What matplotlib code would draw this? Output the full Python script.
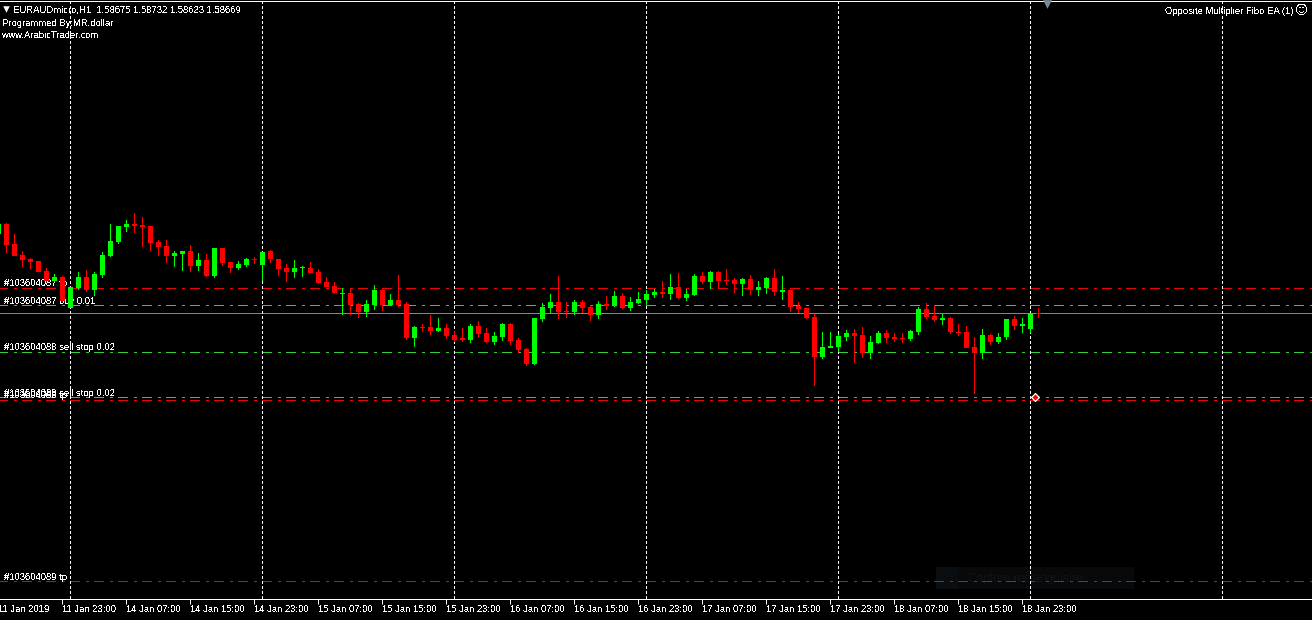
import numpy as np
import matplotlib
matplotlib.use('Agg')
import matplotlib.pyplot as plt

plt.rcParams['font.family'] = ['Liberation Sans', 'DejaVu Sans']
plt.rcParams['text.antialiased'] = False
plt.rcParams['text.hinting'] = 'native'

# no price scale on the chart, so candles are in chart levels
open_ = [386,396,376,365,361,359,349,339,343,312,332,343,330,345,364,378,393,396,395,394,
         378,374,364,366,369,354,360,344,372,358,352,355,361,355,369,361,352,348,352,352,
         348,338,334,326,327,316,308,315,330,315,320,316,282,293,293,289,292,285,282,280,
         294,287,278,283,296,280,271,256,301,312,318,309,308,318,313,305,316,314,324,312,
         317,320,325,328,326,333,322,325,344,338,348,340,340,336,341,330,332,342,328,330,
         314,312,303,263,272,273,283,287,285,267,277,287,283,282,281,288,311,304,300,302,
         288,288,273,267,285,278,283,301,294,291,307]
high = [397,397,386,369,362,359,352,346,344,333,348,350,348,368,396,394,400,407,403,394,
        380,380,369,369,375,367,366,372,372,358,359,362,363,368,370,361,356,360,354,358,
        351,343,338,332,332,317,320,335,331,326,345,318,294,296,305,302,296,289,292,296,
        299,292,288,297,297,282,272,302,317,326,344,318,320,320,315,319,324,329,327,323,
        328,330,331,339,346,347,331,346,348,349,349,351,342,342,345,339,343,351,344,330,
        318,312,306,288,288,286,290,291,293,284,289,290,287,287,290,313,317,315,306,303,
        296,294,283,291,286,287,301,304,302,307,312]
low = [386,367,364,353,351,348,338,338,318,312,330,328,324,342,363,376,388,387,373,369,
       364,357,353,349,348,349,343,342,354,347,350,353,356,339,357,344,338,342,343,347,
       336,333,326,305,305,302,303,310,309,314,313,280,273,288,285,288,281,278,278,277,
       282,277,275,279,275,267,254,255,298,306,301,302,305,307,299,301,310,313,311,309,
       316,315,322,322,320,321,319,324,336,331,331,335,327,324,325,324,326,324,320,308,
       307,301,234,261,272,268,279,257,262,261,276,277,278,277,279,285,301,298,295,286,
       284,272,226,261,275,276,280,290,287,287,302]
close = [396,375,364,360,358,348,339,343,319,333,343,330,346,365,379,394,396,394,393,377,
         373,364,367,369,354,360,344,372,357,352,356,361,360,368,361,351,348,352,353,347,
         337,333,327,327,315,308,316,330,315,320,315,282,293,292,289,292,284,280,280,294,
         286,278,284,296,279,270,256,302,313,318,308,308,318,312,305,316,314,324,312,318,
         321,326,328,326,333,322,326,344,338,348,339,339,336,341,330,333,342,328,330,313,
         311,302,263,273,274,284,287,284,267,278,287,282,281,281,289,311,303,300,302,288,
         287,272,267,285,278,283,301,294,296,307,306]

tick_bars = [0, 8, 16, 24, 32, 40, 48, 56, 64, 72, 80, 88, 96, 104, 112, 120, 128]
tick_labels = ['11 Jan 2019', '11 Jan 23:00', '14 Jan 07:00', '14 Jan 15:00', '14 Jan 23:00',
               '15 Jan 07:00', '15 Jan 15:00', '15 Jan 23:00', '16 Jan 07:00', '16 Jan 15:00',
               '16 Jan 23:00', '17 Jan 07:00', '17 Jan 15:00', '17 Jan 23:00', '18 Jan 07:00',
               '18 Jan 15:00', '18 Jan 23:00']
grid_bars = [9, 33, 57, 81, 105, 129, 153]

# order lines
red_levels = [331.5, 219.5, 38.5]
green_levels = [314.5, 267.5, 222.5]
bid_level = 306.5

order_labels = ['#103604087 tp', '#103604087 buy 0.01', '#103604088 sell stop 0.02',
                '#103604088 sell stop 0.02', '#103604088 tp', '#103604089 tp']
order_label_levels = [337, 318, 272, 226, 224, 43]

open_ = np.array(open_)
high = np.array(high)
low = np.array(low)
close = np.array(close)

x = np.arange(len(open_)) * 8 - 1.5
up = close >= open_
colors = ['#00ff00' if u else '#ff0000' for u in up]

fig = plt.figure(figsize=(13.12, 6.2), dpi=100, facecolor='black')
ax = fig.add_axes([0, 0, 1, 1])
ax.set_facecolor('black')
ax.set_xlim(0, 1312)
ax.set_ylim(0, 620)
ax.axis('off')

px = 0.72  # one pixel in points
fs = 6.8

# faint screenshot tool bar left in the capture
ax.fill_between([936, 1134], 31, 53, color='#07090b', lw=0, zorder=1)
ax.fill_between([936, 958], 31, 53, color='#0a0e10', lw=0, zorder=1)
ax.text(968, 41, 'Capture rectangulaire', color='#101214', fontsize=8.6, va='center', zorder=1)

dashdot = (2, (10, 6, 3, 5))
for lv in red_levels:
    ax.plot([0, 1312], [lv, lv], color='#f00000', lw=px, ls=dashdot, zorder=2, dash_capstyle='butt', snap=False)
for lv in green_levels:
    ax.plot([0, 1312], [lv, lv], color='#32cd32', lw=px, ls=dashdot, zorder=2, dash_capstyle='butt', snap=False)
ax.plot([1035, 1042], [38.5, 38.5], color='#0000c0', lw=px, zorder=2, snap=False)
ax.plot([0, 1312], [bid_level, bid_level], color='#778899', lw=px, zorder=2, snap=False)

for lab, lv in zip(order_labels, order_label_levels):
    ax.text(4, lv, lab, color='white', fontsize=fs, va='center', zorder=3)

for b in grid_bars:
    ax.plot([b * 8 - 1.5] * 2, [21, 620], color='white', lw=px, ls=(0, (3, 2)), zorder=4,
            dash_capstyle='butt', snap=False)

ax.vlines(x, low, high, colors=colors, lw=px, zorder=5, snap=False)
ax.bar(x, close - open_, bottom=open_, width=5, color=colors, lw=0, zorder=6, antialiased=False)

# frame and time axis
ax.plot([0, 1312], [618.5, 618.5], color='white', lw=px, zorder=7, snap=False)
ax.plot([0, 1312], [20.5, 20.5], color='white', lw=px, zorder=7, snap=False)
for b, lab in zip(tick_bars, tick_labels):
    tx = b * 8 - 1.5
    ax.plot([tx, tx], [16, 20.5], color='white', lw=px, zorder=7, snap=False)
    ax.text(tx, 10, lab, color='white', fontsize=fs, va='center', ha='left', zorder=7)

# header
ax.scatter([5.5], [611], marker='v', s=22, color='white', lw=0, zorder=8)
ax.text(13, 609, 'EURAUDmicro,H1  1.58675 1.58732 1.58623 1.58669', color='white', fontsize=fs, va='center', zorder=8)
ax.text(2, 596, 'Programmed By:MR.dollar', color='white', fontsize=fs, va='center', zorder=8)
ax.text(2, 584, 'www.ArabicTrader.com', color='white', fontsize=fs, va='center', zorder=8)
ax.text(1293, 608, 'Opposite Multiplier Fibo EA (1)', color='white', fontsize=fs, va='center', ha='right', zorder=8)
ax.text(1301, 610, '\u263a', color='white', fontsize=9, va='center', ha='center', family='DejaVu Sans', zorder=8)
ax.scatter([1047], [616], marker='v', s=40, color='#778899', lw=0, zorder=8)

# order arrow on the tp line
ax.scatter([1035], [223], marker='D', s=16, facecolor='#ff0000', edgecolor='white', lw=0.9, zorder=8)

fig.savefig('out.png', dpi=100, facecolor='black')
